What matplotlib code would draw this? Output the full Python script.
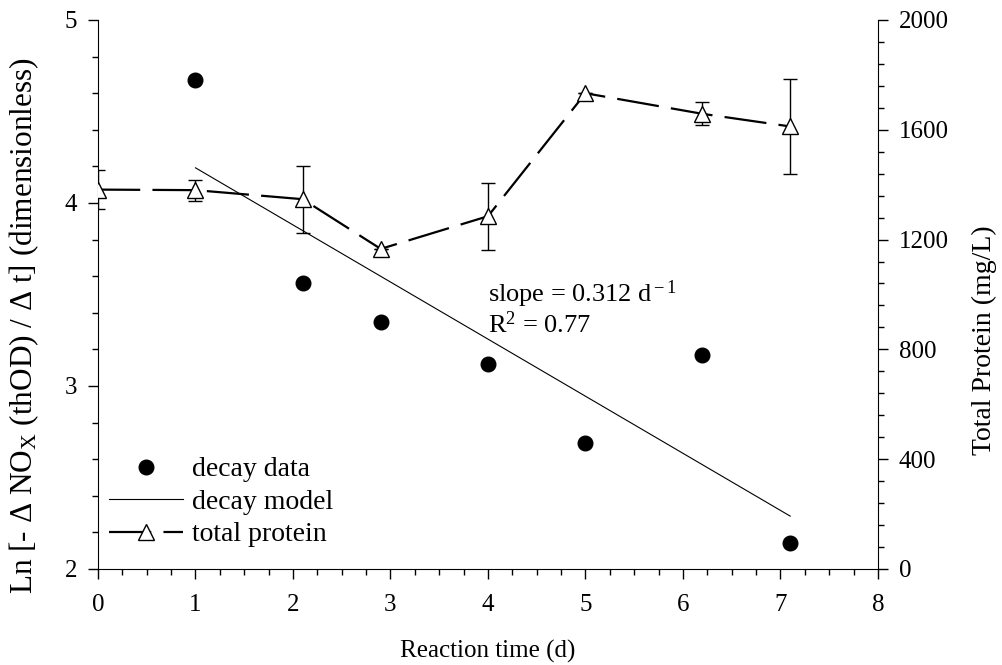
import matplotlib.pyplot as plt
from matplotlib.ticker import MultipleLocator
import numpy as np

plt.rcParams["font.family"] = ["Liberation Serif", "DejaVu Serif"]
plt.rcParams["mathtext.fontset"] = "custom"
plt.rcParams["mathtext.rm"] = "Liberation Serif"
plt.rcParams["mathtext.it"] = "Liberation Serif:italic"

# decay data (left axis)
decay_t = [1.0, 2.1, 2.9, 4.0, 5.0, 6.2, 7.1]
decay_ln = [4.67, 3.56, 3.35, 3.12, 2.69, 3.17, 2.14]

# first-order decay model
slope = -0.312
intercept = 4.504
model_t = np.array([1.0, 7.1])

# total protein (right axis)
prot_t = [0.0, 1.0, 2.1, 2.9, 4.0, 5.0, 6.2, 7.1]
prot_mg = [1382, 1380, 1347, 1166, 1285, 1733, 1658, 1612]
prot_err = [70, 38, 122, 0, 122, 0, 42, 172]

fig = plt.figure(figsize=(10.02, 6.65), dpi=100)
ax = fig.add_axes([0.0978, 0.1444, 0.7784, 0.8256])
ax2 = ax.twinx()

ax.plot(decay_t, decay_ln, "o", color="black", ms=10.5, label="decay data")
ax.plot(model_t, intercept + slope * model_t, "-", color="black", lw=0.8,
        label="decay model")

ax2.errorbar(prot_t, prot_mg, yerr=prot_err, fmt="none", ecolor="black",
             elinewidth=1.0, capsize=4.7, capthick=1.0)
ax2.plot(prot_t, prot_mg, color="black", lw=1.6, dashes=(19, 5.5),
         marker="^", ms=11, mfc="white", mec="black", mew=1.0,
         label="total protein")

ax.set_xlim(0, 8)
ax.set_ylim(2, 5)
ax2.set_ylim(0, 2000)

ax.xaxis.set_major_locator(MultipleLocator(1))
ax.xaxis.set_minor_locator(MultipleLocator(0.25))
ax.yaxis.set_major_locator(MultipleLocator(1))
ax.yaxis.set_minor_locator(MultipleLocator(0.2))
ax2.yaxis.set_major_locator(MultipleLocator(400))
ax2.yaxis.set_minor_locator(MultipleLocator(80))

for a in (ax, ax2):
    a.spines["top"].set_visible(False)
    a.tick_params(which="major", direction="out", length=7, width=1.0,
                  labelsize=18, pad=8)
    a.tick_params(which="minor", direction="out", length=4, width=1.0)
ax.tick_params(axis="x", which="major", pad=11)
ax.spines["right"].set_visible(False)
ax2.spines["left"].set_visible(False)
ax2.spines["bottom"].set_visible(False)

ax.set_xlabel("Reaction time (d)", fontsize=18, labelpad=17)
ax.set_ylabel(r"Ln [- $\Delta$ NO$_{\rm X}$ (thOD) / $\Delta$ t] (dimensionless)",
              fontsize=22.5)
ax.yaxis.set_label_coords(-0.073, 0.444)
ax2.set_ylabel("Total Protein (mg/L)", fontsize=20)
ax2.yaxis.set_label_coords(1.12, 0.417)

ax.text(4.0, 3.457, r"slope = 0.312 d$^{\rm -1}$", fontsize=19)
ax.text(4.0, 3.292, r"R$^{\rm 2}$ = 0.77", fontsize=19)

handles = ax.get_legend_handles_labels()[0] + ax2.get_legend_handles_labels()[0]
labels = [h.get_label() for h in handles]
ax2.legend(handles, labels, loc="lower left", bbox_to_anchor=(-0.018, -0.006),
           frameon=False, fontsize=20, numpoints=1, handlelength=2.65,
           handletextpad=0.35, labelspacing=0.25)

fig.savefig("out.png", dpi=100)
